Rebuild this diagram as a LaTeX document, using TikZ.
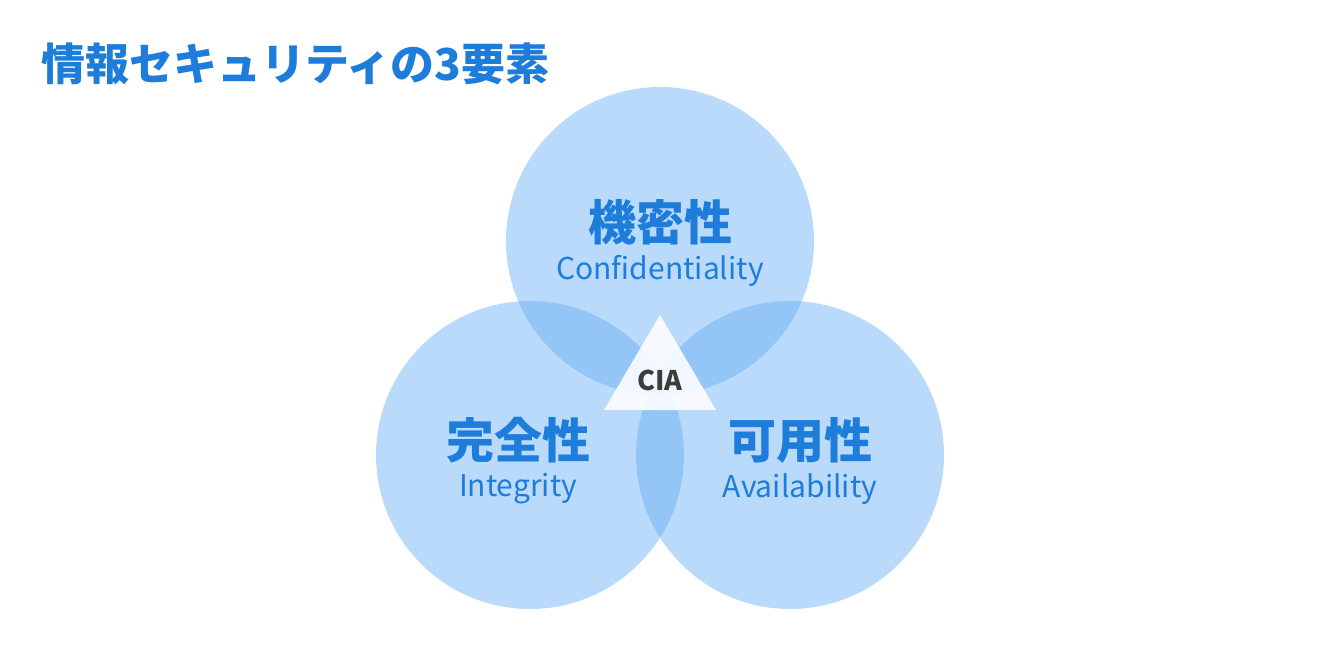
\documentclass[tikz,border=0pt]{standalone}
\usepackage{fontspec}
\setmainfont{Noto Sans}
\newfontfamily\jp{Noto Sans CJK JP}
\definecolor{circ}{RGB}{100,173,244}
\definecolor{txt}{RGB}{30,124,218}
\definecolor{dark}{RGB}{60,60,60}
\tikzset{venn/.style={circle,fill=circ,fill opacity=0.45,minimum size=308pt,inner sep=0pt},
 jlab/.style={text=txt,font=\jp\bfseries\fontsize{48}{52}\selectfont},
 elab/.style={text=txt,font=\jp\fontsize{30}{34}\selectfont}}
\begin{document}
\begin{tikzpicture}[x=1pt,y=-1pt]
\useasboundingbox (0,0) rectangle (1320,657);
\node[anchor=west,text=txt,font=\jp\bfseries\fontsize{44}{48}\selectfont] (title) at (38,64) {情報セキュリティの3要素};
\node[venn] (c) at (660,241) {};
\node[venn] (i) at (530,455) {};
\node[venn] (a) at (790,455) {};
\coordinate (t1) at (660,315);
\coordinate (t2) at (604,410);
\coordinate (t3) at (716,410);
\fill[white,fill opacity=0.88] (t1) -- (t2) -- (t3) -- cycle;
\node[text=dark,font=\jp\bfseries\fontsize{27}{30}\selectfont] (cia) at (660,380) {CIA};
\node[jlab] (cj) at (660,222) {機密性};
\node[elab] (ce) at (660,271) {Confidentiality};
\node[jlab] (ij) at (518,440) {完全性};
\node[elab] (ie) at (518,489) {Integrity};
\node[jlab] (aj) at (800,440) {可用性};
\node[elab] (ae) at (800,489) {Availability};
\end{tikzpicture}
\end{document}
